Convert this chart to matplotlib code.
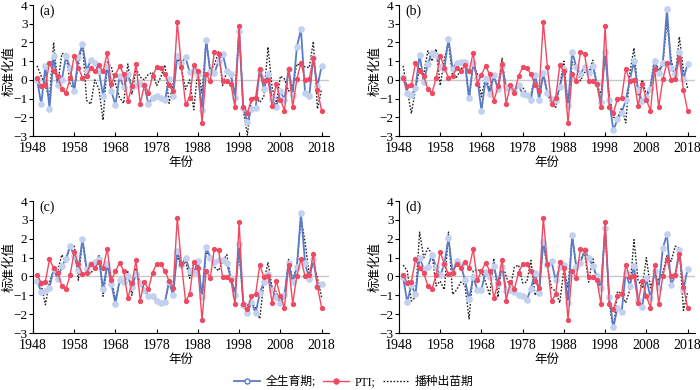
import matplotlib
matplotlib.use("Agg")
import matplotlib.pyplot as plt
from matplotlib.lines import Line2D

plt.rcParams['font.family'] = ['Liberation Serif', 'Noto Sans CJK SC', 'DejaVu Sans']

years = list(range(1949, 2019))

pti = [0.1, -0.35, -0.28, 0.9, 0.45, 0.18, -0.5, -0.68, 0.08, 1.3,
       0.65, 0.12, 0.2, 0.65, 0.45, 0.78, 0.45, 1.45, -0.2, 0.28,
       0.73, 0.3, -1.15, -0.35, 0.87, -1.28, -0.3, -0.68, 0.2, 0.67,
       0.65, 0.3, -0.25, -0.6, 3.1, 0.68, -1.3, -0.95, 0.77, 0.45,
       -2.3, 0.3, -0.07, 1.48, 1.4, -0.05, -0.05, -0.2, -1.47, 2.88,
       -1.45, -1.75, -1.03, -0.95, 0.6, -0.05, 0.0, -1.4, -0.22, -1.05,
       -1.65, 0.6, -1.45, 0.03, 0.92, 0.0, 0.05, 1.17, -0.55, -1.65]

whole_a = [0.0, -1.3, 0.72, -1.55, 1.25, -0.3, 0.0, 1.25, 0.65, -0.6,
           1.2, 1.9, 0.5, 1.05, 0.9, 0.45, -0.85, 0.75, -0.6, -1.35,
           0.2, -0.4, 0.3, -0.4, -0.3, -0.2, -0.3, -1.3, -0.95, -0.85,
           -0.95, -1.1, 0.05, -0.85, 1.3, 0.9, 1.2, 0.4, 0.5, 0.3,
           -1.6, 2.15, 0.4, 0.35, 1.0, 1.4, 0.45, 0.3, -0.95, 2.6,
           -1.5, -2.25, -1.55, -1.5, 0.55, -0.5, 0.3, -1.0, -1.45, -0.6,
           -1.05, 0.6, -0.8, 1.75, 2.7, -0.7, -0.85, 1.17, -0.35, 0.73]
sow_a = [0.75, 0.2, -0.3, -1.05, 2.0, -0.25, 1.4, 1.4, -0.2, -0.5,
         0.75, 2.0, -1.1, -1.3, 0.0, -0.5, -2.15, 0.95, 0.7, -0.2,
         -0.95, -1.25, 0.85, -0.75, 0.6, 0.15, 0.0, 0.3, 0.4, -0.3,
         0.15, 0.8, -1.25, -0.2, 1.2, 0.6, -0.5, 0.0, -1.6, 0.6,
         -0.7, 2.1, 0.5, 0.8, 1.5, -0.3, 0.45, 0.2, -0.8, 2.75,
         -1.6, -2.95, -1.0, -0.9, -1.2, -0.9, 1.75, -0.4, -1.3, 0.2,
         0.05, -0.6, -0.3, 0.85, 0.75, 0.7, 0.65, 2.05, -1.55, -0.5]

whole_b = [0.15, -0.7, -0.8, -0.45, 1.35, -0.1, 0.85, 1.45, 1.35, 0.7,
           0.6, 2.2, 0.6, 0.9, 0.95, 0.95, -0.95, 0.9, 0.1, -1.65,
           0.05, -0.75, 0.25, -0.5, 0.75, -0.4, -0.4, -0.6, -0.3, -0.75,
           -0.8, -1.05, 0.25, -1.05, 0.35, -0.7, -1.0, -1.1, -0.4, 0.6,
           -1.4, 1.5, 0.7, 0.3, 0.7, 0.35, 0.75, -0.2, -1.2, 1.5,
           -1.1, -2.7, -2.1, -1.75, -1.1, 0.0, 1.0, -0.55, -1.15, -0.9,
           -0.5, 1.0, 0.35, 0.9, 3.8, 0.65, 0.3, 1.5, 0.05, 0.85]
sow_b = [0.75, -0.55, -1.8, -0.5, 0.6, 0.3, 1.55, 1.0, 1.65, -0.3,
         1.1, 2.0, 0.2, 0.15, 0.55, 0.9, -1.1, 0.9, 0.3, -0.9,
         0.15, -0.5, 0.15, -0.4, 1.15, -0.6, -0.3, -0.55, -0.2, -0.4,
         -0.75, -0.8, 0.2, -0.6, 0.2, -0.7, -1.3, -1.5, -0.3, 1.0,
         -1.5, 0.95, 0.7, -0.05, 0.4, 0.4, 1.05, -0.3, -0.75, 1.3,
         -0.8, -2.0, -2.05, -1.5, -2.3, 0.4, 1.7, -0.8, 0.0, -0.8,
         -0.3, 1.15, 0.5, 0.9, 3.1, 1.1, 0.1, 2.3, 0.5, -0.45]

whole_c = [-0.25, -0.8, -0.75, -0.6, 0.4, -0.15, 0.55, 0.95, 1.6, 1.1,
           0.35, 2.0, 0.4, 0.65, 0.75, 0.9, -0.65, 0.65, -0.4, -1.45,
           -0.2, -0.3, 0.0, -0.55, 0.15, -0.35, -0.7, -1.05, -1.05, -1.3,
           -1.4, -1.35, -0.3, -1.0, 1.35, 0.6, 1.0, 0.3, 0.2, 0.8,
           -1.1, 1.55, 1.0, 0.75, 0.85, 0.85, 0.7, -0.1, -1.0, 1.7,
           -1.5, -1.95, -1.35, -1.95, -0.9, -0.3, 0.15, -0.7, -1.1, -1.4,
           -1.0, 0.7, -0.3, 0.5, 3.35, 0.7, -0.15, 0.9, -0.5, -0.4]
sow_c = [0.05, -0.45, -1.5, -0.3, 0.3, 0.3, 1.15, 0.75, 1.65, 1.65,
         -0.2, 1.95, 0.3, 0.15, 0.5, 1.15, -1.05, 0.6, -0.1, -1.25,
         -0.3, -0.4, 0.25, -1.0, 0.45, -0.5, -0.7, -1.0, -1.0, -1.2,
         -1.35, -1.45, -0.2, -0.6, 1.1, 0.5, 0.8, -0.1, 0.7, 0.9,
         -1.2, 1.3, 1.1, 0.5, 0.3, 0.8, 1.15, -0.1, -0.8, 1.3,
         -1.3, -1.55, -1.3, -1.7, -2.25, -0.3, 0.75, -0.6, -0.8, -1.4,
         -1.05, 0.9, -0.2, 0.5, 3.1, 1.8, 0.1, 0.75, -0.1, -1.1]

whole_d = [-0.05, -1.35, -0.45, -0.95, 1.0, 0.4, 0.5, 1.15, 0.5, 0.05,
           0.65, 2.05, 0.2, 0.8, 0.6, -0.2, -1.2, -0.05, -0.7, -0.7,
           0.25, -0.05, 0.55, -0.4, 0.5, -0.75, -0.7, -0.8, -1.0, -1.05,
           -1.25, -0.65, 0.2, -0.9, 1.85, 0.6, 0.8, -0.2, 0.5, 0.6,
           -1.4, 2.2, 0.5, 0.7, 1.4, 1.0, 0.55, 0.0, -0.6, 2.55,
           -1.1, -2.7, -1.65, -1.9, 0.2, -0.5, 0.55, -1.25, -1.6, -0.1,
           -1.15, 0.3, -0.6, 1.5, 2.25, -0.45, 0.05, 1.4, -0.7, 0.4]
sow_d = [0.6, 0.3, -1.3, -1.1, 2.35, 1.0, 1.5, 1.2, -0.5, -0.25,
         -0.7, 2.35, -0.95, -0.7, -0.3, -0.45, -2.25, 0.3, 0.35, 0.3,
         -0.3, -1.0, 0.95, -1.1, 0.75, 0.0, -0.6, 0.5, 0.6, -0.35,
         -0.3, 0.85, -1.0, -0.6, 1.75, 0.5, -0.6, -0.8, -1.4, 0.4,
         -0.6, 2.1, 0.5, 0.9, 1.3, -0.3, 1.0, -0.3, -0.6, 2.55,
         -1.4, -2.85, -0.8, -0.9, -1.4, -0.7, 1.95, -0.2, -0.6, 1.0,
         -0.6, 0.1, -0.2, 0.2, 1.1, 0.8, 1.6, 1.5, -1.8, -0.85]

panels = [("(a)", whole_a, sow_a), ("(b)", whole_b, sow_b),
          ("(c)", whole_c, sow_c), ("(d)", whole_d, sow_d)]
xticks = [1948, 1958, 1968, 1978, 1988, 1998, 2008, 2018]
yticks = [-3, -2, -1, 0, 1, 2, 3, 4]

blue = '#5a7cc8'
blue_face = '#c3d1f0'
red = '#f04a62'
cjk = ['Noto Sans CJK SC', 'DejaVu Sans']

fig = plt.figure(figsize=(7, 3.9), dpi=100)
W, H = 700, 390
boxes = [(33, 5, 296, 131), (399, 5, 296, 131),
         (33, 201, 296, 132), (399, 201, 296, 132)]

for (lab, whole, sow), (l, t, w, h) in zip(panels, boxes):
    ax = fig.add_axes([l / W, 1 - (t + h) / H, w / W, h / H])
    ax.axhline(0, color='#c8c8c8', lw=1.0, zorder=1)
    ax.plot(years, sow, color='#222222', lw=1.0, ls=(0, (1.2, 1.2)), zorder=2)
    ax.plot(years, whole, color=blue, lw=1.3, marker='o', ms=3.8,
            mfc=blue_face, mec=blue_face, zorder=3)
    ax.plot(years, pti, color=red, lw=1.0, marker='o', ms=2.8,
            mfc=red, mec=red, zorder=4)
    ax.set_xlim(1948, 2019.8)
    ax.set_ylim(-3, 4)
    ax.set_xticks(xticks)
    ax.set_yticks(yticks)
    ax.set_yticklabels(['\u22123', '\u22122', '\u22121', '0', '1', '2', '3', '4'])
    ax.spines['top'].set_visible(False)
    ax.spines['right'].set_visible(False)
    ax.tick_params(axis='x', direction='in', length=3, labelsize=10, pad=4)
    ax.tick_params(axis='y', direction='out', length=3, labelsize=9.5, pad=1)
    ax.set_ylabel('标准化值', family=cjk, fontsize=9)
    ax.yaxis.set_label_coords(-0.06, 0.5)
    ax.set_xlabel('年份', family=cjk, fontsize=9, labelpad=1)
    ax.text(0.02, 1.0, lab, transform=ax.transAxes, fontsize=10,
            ha='left', va='top')

handles = [
    Line2D([], [], color=blue, lw=1.3, marker='o', ms=3.6, mfc='white', mec=blue),
    Line2D([], [], color=red, lw=1.0, marker='o', ms=3.6, mfc=red, mec=red),
    Line2D([], [], color='#222222', lw=1.0, ls=(0, (1.2, 1.2))),
]
labels = ['全生育期;', 'PTI;', '播种出苗期']
leg = fig.legend(handles, labels, loc='center', bbox_to_anchor=(0.505, 0.02),
                 ncol=3, frameon=False, handlelength=2.2,
                 columnspacing=0.6, handletextpad=0.5,
                 prop={'family': ['Liberation Serif', 'Noto Sans CJK SC'], 'size': 8.5})

fig.savefig('out.png', dpi=100)
